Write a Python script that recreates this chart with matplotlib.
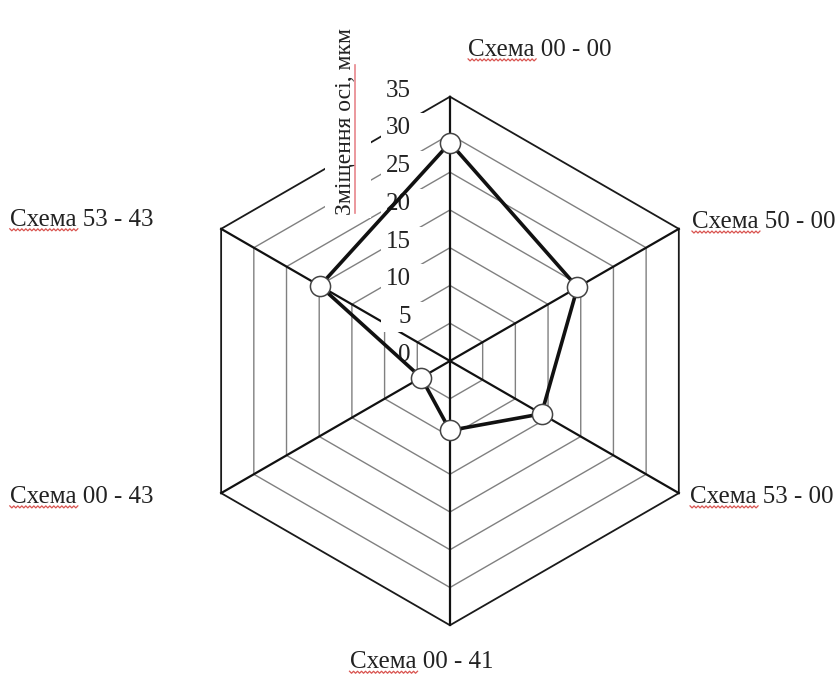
import numpy as np
import matplotlib
matplotlib.use("Agg")
import matplotlib.pyplot as plt
from matplotlib.lines import Line2D
from matplotlib.patches import Rectangle
from matplotlib.transforms import IdentityTransform

plt.rcParams["font.family"] = ["Liberation Serif", "DejaVu Serif"]

# data
schemes = ["00 - 00", "50 - 00", "53 - 00", "00 - 41", "00 - 43", "53 - 43"]
values = [28.9, 19.5, 14.0, 9.2, 4.4, 19.9]
ring_values = [0, 5, 10, 15, 20, 25, 30, 35]
axis_title = "Зміщення осі, мкм"

# axis directions clockwise from top
angles = np.deg2rad([90, 30, -30, -90, -150, 150])
ux, uy = np.cos(angles), np.sin(angles)

fig = plt.figure(figsize=(8.4, 6.75), dpi=100)
ax = fig.add_axes([0, 0, 1, 1])
ax.set_xlim(-59.6, 51.66)
ax.set_ylim(-41.59, 47.81)
ax.axis("off")

# rings
rmax = ring_values[-1]
for r in ring_values[1:]:
    xs = np.append(ux * r, ux[0] * r)
    ys = np.append(uy * r, uy[0] * r)
    if r == rmax:
        ax.plot(xs, ys, color="#1a1a1a", lw=1.3, zorder=1)
    else:
        ax.plot(xs, ys, color="#808080", lw=1.0, zorder=1)

# spokes
for x1, y1 in zip(ux, uy):
    ax.plot([0, x1 * rmax], [0, y1 * rmax], color="#111111", lw=1.6, zorder=2)

# tick labels, each on a white box that hides the grid behind it
for v in ring_values:
    ly = v + 0.8
    if v == 0:
        box = Rectangle((-8.2, ly - 1.6), 3.0, 3.2)
    else:
        box = Rectangle((-9.1, ly - 2.0), 6.1, 4.0)
    box.set_facecolor("white")
    box.set_edgecolor("none")
    box.set_zorder(2.5)
    ax.add_patch(box)
    ax.text(-5.2, ly, str(v), ha="right", va="center", fontsize=18,
            color="#222222", zorder=3)

# axis title on its own white box
ax.add_patch(Rectangle((-16.6, 18.9), 6.2, 25.2, facecolor="white",
                       edgecolor="none", zorder=2.5))
title = ax.text(-13.9, 31.7, axis_title, rotation=90, ha="center", va="center",
                fontsize=17, color="#222222", zorder=3)

# data polygon
vals = np.array(values)
px = np.append(ux * vals, ux[0] * vals[0])
py = np.append(uy * vals, uy[0] * vals[0])
ax.plot(px, py, color="#111111", lw=2.6, zorder=4)
ax.plot(ux * vals, uy * vals, ls="none", marker="o", markersize=14.5,
        markerfacecolor="white", markeredgecolor="#444444", markeredgewidth=1.1,
        zorder=5)

# category labels
label_pos = [
    (2.4, 41.2, "left"),
    (32.05, 18.4, "left"),
    (31.8, -18.0, "left"),
    (-3.8, -39.9, "center"),
    (-58.3, -18.0, "left"),
    (-58.3, 18.7, "left"),
]
word_texts = []
for name, (lx, ly, ha) in zip(schemes, label_pos):
    t = ax.text(lx, ly, "Схема " + name, ha=ha, va="center", fontsize=18,
                color="#222222")
    w = ax.text(lx, ly, "Схема", ha="left", va="center", fontsize=18, alpha=0)
    word_texts.append((t, w))

fig.canvas.draw()
renderer = fig.canvas.get_renderer()


def wavy(x0, x1, y, amp=1.0, step=2.0):
    xs = np.arange(x0, x1 + step, step)
    ys = y + amp * np.where(np.arange(len(xs)) % 2 == 0, 1, -1)
    fig.add_artist(Line2D(xs, ys, transform=IdentityTransform(),
                          color="#d9534f", lw=0.9))


# spell-check style underline under "Схема"
for t, w in word_texts:
    tb = t.get_window_extent(renderer)
    wb = w.get_window_extent(renderer)
    wavy(tb.x0, tb.x0 + wb.width, tb.y0 + 1)

# underline beside the rotated title
tb = title.get_window_extent(renderer)
fig.add_artist(Line2D([tb.x1 - 1, tb.x1 - 1], [tb.y0 + 2, tb.y0 + 150],
                      transform=IdentityTransform(), color="#e8868c", lw=1.2))

fig.savefig("out.png", dpi=100)
